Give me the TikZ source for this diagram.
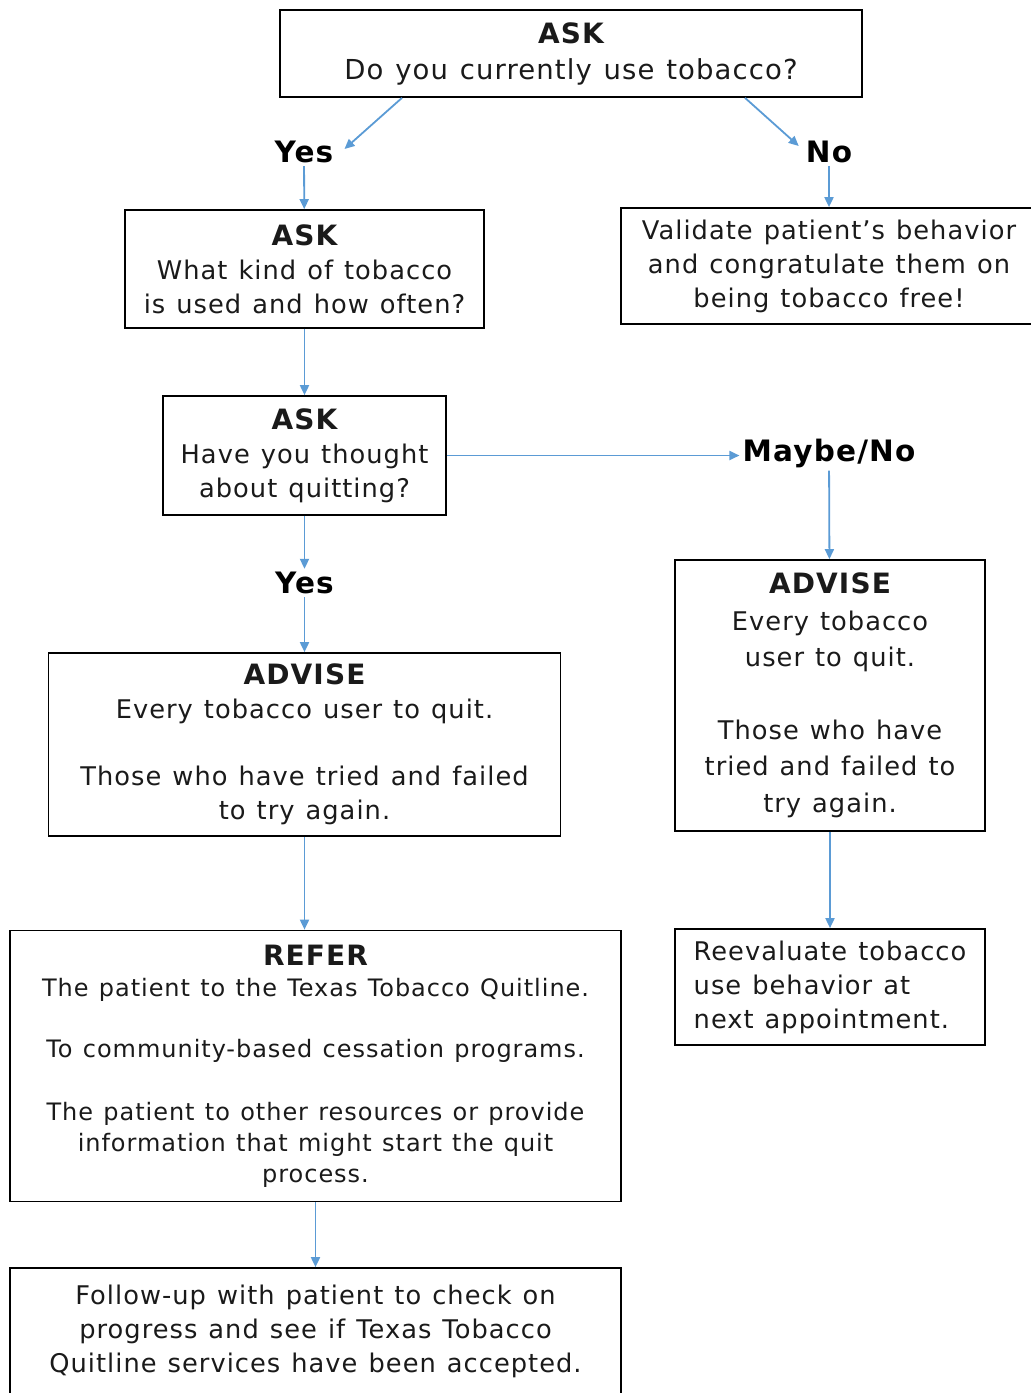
\documentclass[tikz,border=0pt]{standalone}
\usepackage{fontspec}
\setmainfont[LetterSpace=4,WordSpace=1.2]{DejaVu Sans}
\usetikzlibrary{arrows.meta,positioning}
\definecolor{arrblue}{HTML}{5B9BD5}
\definecolor{txtgray}{HTML}{1A1A1A}
\newcommand{\hd}[1]{{\fontsize{28}{34}\selectfont\bfseries #1}}

\begin{document}
\begin{tikzpicture}[x=1pt,y=-1pt,
    box/.style={draw=black, line width=1.7pt, inner sep=0pt, align=center, text=txtgray,
      font=\fontsize{25.7}{34}\selectfont},
    lbl/.style={inner sep=3pt, font=\fontsize{29.5}{34}\selectfont\bfseries},
    arr/.style={draw=arrblue, line width=1.8pt, -{Triangle[length=10pt,width=9pt]}}]
  \useasboundingbox (0,0) rectangle (1031,1393);
  \clip (0,0) rectangle (1031,1393);

  % first question
  \node[box, minimum width=582pt, minimum height=87pt, font=\fontsize{27.5}{36}\selectfont] (ask1) at (571,53.5)
    {\hd{ASK}\\Do you currently use tobacco?};
  \node[lbl] (yes1) at (304,152) {Yes};
  \node[lbl] (no1) at (829,152) {No};
  \draw[arr] ([xshift=-169pt]ask1.south) -- ([shift={(8pt,3pt)}]yes1.east);
  \draw[arr] ([xshift=174pt]ask1.south) -- ([shift={(-4pt,6pt)}]no1.west);

  % no branch
  \node[box, minimum width=416pt, minimum height=116pt] (valid) at (829,266)
    {Validate patient’s behavior\\and congratulate them on\\being tobacco free!};
  \draw[arr] (no1) -- (valid);

  % yes branch
  \node[box, minimum width=359pt, minimum height=118pt] (ask2) at (304.5,269)
    {\hd{ASK}\\What kind of tobacco\\is used and how often?};
  \draw[arr] (yes1) -- (ask2);
  \node[box, minimum width=283pt, minimum height=119pt] (ask3) at (304.5,455.5)
    {\hd{ASK}\\Have you thought\\about quitting?};
  \draw[arr] (ask2) -- (ask3);

  % maybe / no
  \node[lbl] (maybe) at (829,453) {Maybe/No};
  \draw[arr] (ask3.east) -- (ask3.east -| maybe.west);
  \node[box, minimum width=310pt, minimum height=271pt, font=\fontsize{25.7}{36.5}\selectfont] (adv2) at (830,695.5)
    {\hd{ADVISE}\\Every tobacco\\user to quit.\\[36pt]Those who have\\tried and failed to\\try again.};
  \draw[arr] (maybe) -- (adv2);
  \node[box, minimum width=310pt, minimum height=116pt, align=left] (reeval) at (830,987)
    {Reevaluate tobacco\\use behavior at\\next appointment.};
  \draw[arr] (adv2) -- (reeval);

  % yes again
  \node[lbl] (yes2) at (304.5,583) {Yes};
  \draw[arr] (ask3) -- (yes2);
  \node[box, minimum width=512pt, minimum height=183pt] (adv1) at (304.5,744.5)
    {\hd{ADVISE}\\Every tobacco user to quit.\\[33pt]Those who have tried and failed\\to try again.};
  \draw[arr] (yes2) -- (adv1);

  % refer and follow-up
  \node[box, minimum width=611pt, minimum height=271pt, font=\fontsize{24}{31}\selectfont] (refer) at (315.5,1066)
    {\hd{REFER}\\The patient to the Texas Tobacco Quitline.\\[30pt]To community-based cessation programs.\\[32pt]The patient to other resources or provide\\information that might start the quit\\process.};
  \draw[arr] (adv1.south) -- (adv1.south |- refer.north);
  \node[box, minimum width=611pt, minimum height=126pt] (follow) at (315.5,1331)
    {Follow-up with patient to check on\\progress and see if Texas Tobacco\\Quitline services have been accepted.};
  \draw[arr] (refer) -- (follow);
\end{tikzpicture}
\end{document}
